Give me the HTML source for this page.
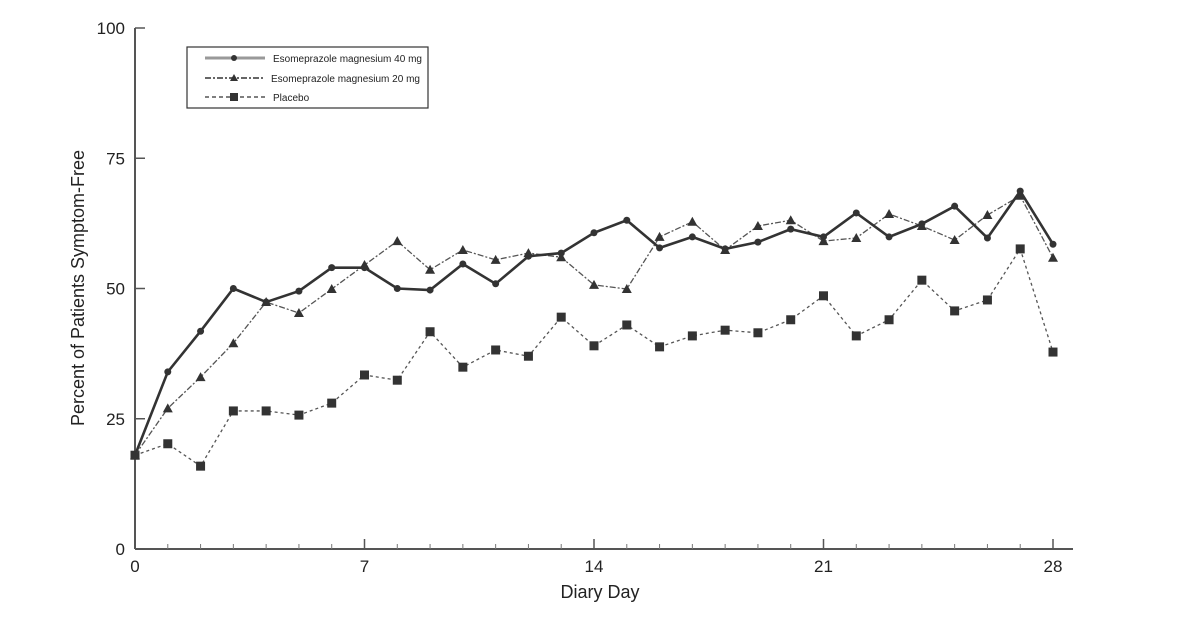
<!DOCTYPE html>
<html><head><meta charset="utf-8"><style>
body{margin:0;background:#fff;}
svg{display:block;font-family:"Liberation Sans",sans-serif;}
</style></head><body>
<svg id="chart" width="1189" height="634">
<g id="axes"></g><g id="series"></g>
<g>
<rect x="187" y="47" width="241" height="61" fill="#fff" stroke="#333" stroke-width="1.2"/>
<line x1="205" y1="58" x2="265" y2="58" stroke="#999" stroke-width="3"/>
<circle cx="234" cy="58" r="3" fill="#333"/>
<text x="273" y="62" font-size="10" fill="#222">Esomeprazole magnesium 40 mg</text>
<line x1="205" y1="78" x2="265" y2="78" stroke="#666" stroke-width="2" stroke-dasharray="6,2,2,2"/>
<polygon points="234,74 230,81 238,81" fill="#333"/>
<text x="271" y="82" font-size="10" fill="#222">Esomeprazole magnesium 20 mg</text>
<line x1="205" y1="97" x2="265" y2="97" stroke="#555" stroke-width="1.5" stroke-dasharray="4,3"/>
<rect x="230" y="93" width="8" height="8" fill="#333"/>
<text x="273" y="101" font-size="10" fill="#222">Placebo</text>
</g>
</svg>
<script>
const days=[0,1,2,3,4,5,6,7,8,9,10,11,12,13,14,15,16,17,18,19,20,21,22,23,24,25,26,27,28];
const eso40=[18,34,41.8,50,47.4,49.5,54,54,50,49.7,54.7,50.9,56.2,56.8,60.7,63.1,57.8,59.9,57.6,58.9,61.4,59.9,64.5,59.9,62.4,65.8,59.7,68.7,58.5];
const eso20=[18,27,33,39.5,47.4,45.3,49.9,54.5,59.1,53.6,57.4,55.5,56.8,56,50.7,49.9,59.9,62.8,57.4,62,63.1,59.1,59.7,64.3,62,59.3,64.1,67.8,55.9];
const placebo=[18,20.2,15.9,26.5,26.5,25.7,28,33.4,32.4,41.7,34.9,38.2,37,44.5,39,43,38.8,40.9,42,41.5,44,48.6,40.9,44,51.6,45.7,47.8,57.6,37.8];
const xTicks=[0,7,14,21,28];
const yTicks=[0,25,50,75,100];
const NS="http://www.w3.org/2000/svg";
const X=d=>135+d*(1053-135)/28;
const Y=v=>549-v*(549-28)/100;
function mk(tag,attrs,parent){const e=document.createElementNS(NS,tag);for(const k in attrs)e.setAttribute(k,attrs[k]);parent.appendChild(e);return e;}
const ax=document.getElementById('axes');
let l=mk('line',{x1:135,y1:28,x2:135,y2:549,stroke:'#555','stroke-width':2},ax);


l=mk('line',{x1:135,y1:549,x2:1073,y2:549,stroke:'#555','stroke-width':2},ax);


yTicks.forEach(v=>{
 mk('line',{x1:135,y1:Y(v),x2:145,y2:Y(v),stroke:'#555','stroke-width':1.5},ax);
 const t=mk('text',{x:125,y:Y(v)+6,'text-anchor':'end','font-size':17,fill:'#222'},ax);
 t.textContent=v;
 
 
});
for(let d=1;d<=28;d++){mk('line',{x1:X(d),y1:549,x2:X(d),y2:544,stroke:'#777','stroke-width':1},ax);}
xTicks.forEach(d=>{
 mk('line',{x1:X(d),y1:549,x2:X(d),y2:539,stroke:'#555','stroke-width':1.5},ax);
 const t=mk('text',{x:X(d),y:572,'text-anchor':'middle','font-size':17,fill:'#222'},ax);
 t.textContent=d;
 
 
});
let t=mk('text',{x:600,y:598,'text-anchor':'middle','font-size':18,fill:'#222'},ax);
t.textContent='Diary Day';


t=mk('text',{x:0,y:0,'text-anchor':'middle','font-size':18,fill:'#222',transform:'translate(84,288) rotate(-90)'},ax);
t.textContent='Percent of Patients Symptom-Free';


const sg=document.getElementById('series');
function series(vals,name,stroke,w,dash,marker){
 const g=mk('g',{},sg);
 
 
 const pts=vals.map((v,i)=>X(days[i])+','+Y(v)).join(' ');
 const a={points:pts,fill:'none',stroke:stroke,'stroke-width':w};
 if(dash)a['stroke-dasharray']=dash;
 mk('polyline',a,g);
 vals.forEach((v,i)=>{
  const x=X(days[i]),y=Y(v);let m;
  if(marker==='c')m=mk('circle',{cx:x,cy:y,r:3.5,fill:'#333'},g);
  else if(marker==='t')m=mk('polygon',{points:`${x},${y-5} ${x-5},${y+4} ${x+5},${y+4}`,fill:'#333'},g);
  else m=mk('rect',{x:x-4.5,y:y-4.5,width:9,height:9,fill:'#333'},g);
  
  
 });
}
series(placebo,'placebo-series','#555',1.3,'3,3','s');
series(eso20,'eso20-series','#555',1.3,'6,2,2,2','t');
series(eso40,'eso40-series','#333',2.6,null,'c');
</script>
</body></html>
